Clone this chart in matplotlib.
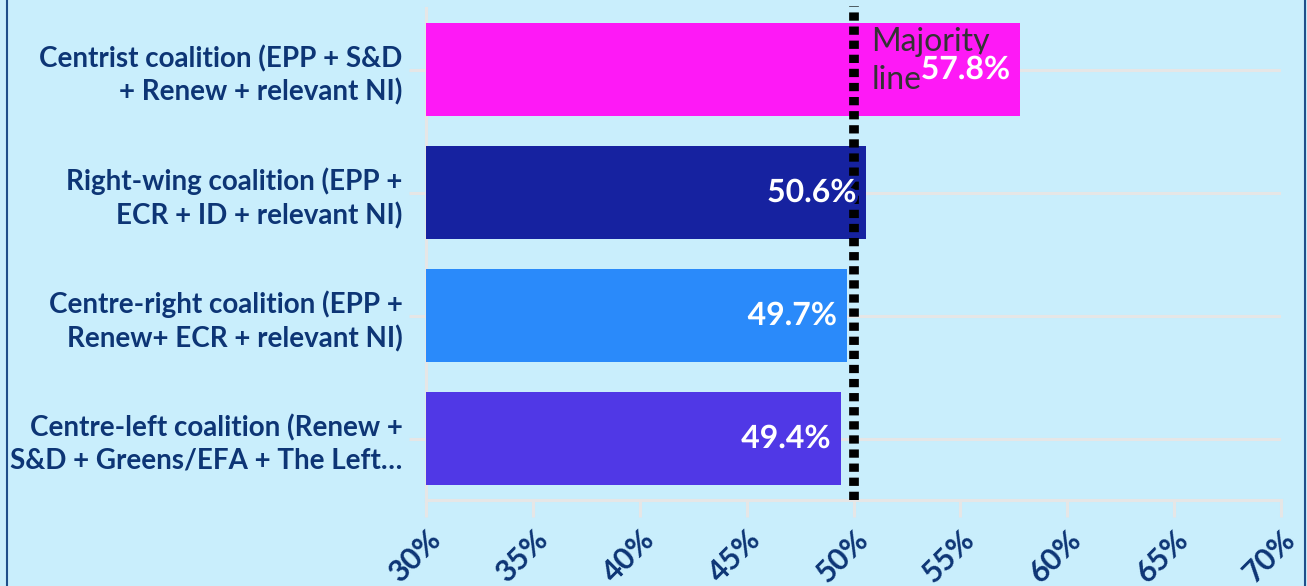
import matplotlib
matplotlib.use("Agg")
import matplotlib.pyplot as plt
import matplotlib.patheffects as pe
import matplotlib.transforms as mtransforms
from matplotlib.lines import Line2D

categories = [
    "Centrist coalition (EPP + S&D\n+ Renew + relevant NI)",
    "Right-wing coalition (EPP +\nECR + ID + relevant NI)",
    "Centre-right coalition (EPP +\nRenew+ ECR + relevant NI)",
    "Centre-left coalition (Renew +\nS&D + Greens/EFA + The Left…",
]
values = [57.8, 50.6, 49.7, 49.4]
bar_colors = ["#fe19f6", "#1622a0", "#2a8afa", "#5038e6"]
x_ticks = [30, 35, 40, 45, 50, 55, 60, 65, 70]
x_tick_labels = ["30%", "35%", "40%", "45%", "50%", "55%", "60%", "65%", "70%"]
majority = 50
majority_label = "Majority\nline"

BG = "#c9eefc"
TXT = "#0d3575"
GRID = "#e6e6e6"
plt.rcParams['font.family'] = ['Lato', 'DejaVu Sans']

W, H = 1307, 586
fig = plt.figure(figsize=(W / 100, H / 100), dpi=100, facecolor=BG)
ax = fig.add_axes([426 / W, 1 - 500 / H, (1281 - 426) / W, (500 - 8) / H])
ax.set_facecolor(BG)

ypos = list(range(len(categories)))
ax.barh(ypos, [v - 30 for v in values], left=30, height=0.75, color=bar_colors, zorder=3)
ax.set_xlim(30, 70)
ax.set_ylim(len(categories) - 0.5, -0.5)

# gridlines at categories
for y in ypos:
    ax.axhline(y, color=GRID, lw=2.2, zorder=1)

ax.set_yticks(ypos)
ax.set_yticklabels(categories, fontsize=20, fontweight='bold', color=TXT, linespacing=1.3)
ax.tick_params(axis='y', length=12, width=2.2, color=GRID, pad=5)
ax.set_xticks(x_ticks)
ax.set_xticklabels(x_tick_labels, fontsize=22, fontweight='bold', color=TXT, rotation=45,
                   ha='right', va='top', rotation_mode='anchor')
ax.tick_params(axis='x', length=12, width=2.2, color=GRID, pad=6)
shift = mtransforms.ScaledTranslation(0 / 100, 0, fig.dpi_scale_trans)
for lbl in ax.get_xticklabels():
    lbl.set_transform(lbl.get_transform() + shift)

for s in ['top', 'right']:
    ax.spines[s].set_visible(False)
for s in ['left', 'bottom']:
    ax.spines[s].set_color(GRID)
    ax.spines[s].set_linewidth(2.2)
    ax.spines[s].set_zorder(2)

# majority line
ax.axvline(majority, color='black', lw=7, linestyle=(0, (0.85, 0.6)), zorder=5,
           ymin=0.0, ymax=1.005, clip_on=False)
ax.annotate(majority_label, xy=(majority, -0.5), xytext=(13, -14), textcoords='offset points',
            fontsize=23, color='#333333', ha='left', va='top', zorder=6, linespacing=1.3)

# value labels
for y, v, c in zip(ypos, values, bar_colors):
    ax.annotate(f"{v:.1f}%", xy=(v, y), xytext=(-7, 0), textcoords='offset points',
                ha='right', va='center', fontsize=23, fontweight='bold', color='white', zorder=7,
                path_effects=[pe.Stroke(linewidth=4, foreground=c), pe.Normal()])

# outer frame lines
fig.add_artist(Line2D([7 / W, 7 / W], [0, 1], color="#1f4f8a", lw=1.5))
fig.add_artist(Line2D([1305 / W, 1305 / W], [0, 1], color="#1f4f8a", lw=1.5))

fig.savefig("out.png", dpi=100, facecolor=BG)
